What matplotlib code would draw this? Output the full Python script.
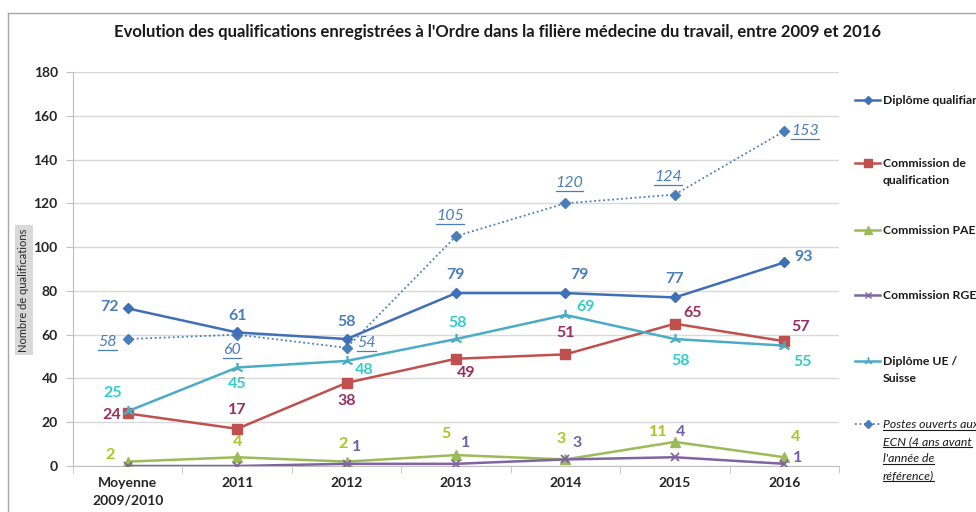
import matplotlib
matplotlib.use("Agg")
import matplotlib.pyplot as plt
from matplotlib.lines import Line2D

plt.rcParams['font.family'] = ['Lato', 'DejaVu Sans']

categories = ["Moyenne\n2009/2010", "2011", "2012", "2013", "2014", "2015", "2016"]
diplome_qualifiant = [72, 61, 58, 79, 79, 77, 93]
commission_qualif = [24, 17, 38, 49, 51, 65, 57]
commission_pae = [2, 4, 2, 5, 3, 11, 4]
commission_rge = [0, 0, 1, 1, 3, 4, 1]
diplome_ue = [25, 45, 48, 58, 69, 58, 55]
postes_ecn = [58, 60, 54, 105, 120, 124, 153]
rge_labels = [None, None, "1", "1", "3", "4", "1"]

W, H = 976, 512
fig = plt.figure(figsize=(W / 100, H / 100), dpi=100)
ax = fig.add_axes([73 / W, 1 - 466 / H, (839 - 73) / W, (466 - 72) / H])

x = list(range(len(categories)))

c_dq = '#3F6FB6'
c_cq = '#C0504D'
c_pae = '#9BBB59'
c_rge = '#8064A2'
c_ue = '#4BACC6'

ax.plot(x, postes_ecn, color='#4A7EBB', lw=1.3, ls=(0, (1, 1.5)), marker='D', ms=5, zorder=3)
ax.plot(x, diplome_qualifiant, color=c_dq, lw=1.8, marker='D', ms=5.5, zorder=4)
ax.plot(x, commission_qualif, color=c_cq, lw=1.8, marker='s', ms=6.5, zorder=4)
ax.plot(x, commission_pae, color=c_pae, lw=1.8, marker='^', ms=7, zorder=4)
ax.plot(x, commission_rge, color=c_rge, lw=1.8, marker='x', ms=6, mew=1.3, zorder=4)
ax.plot(x, diplome_ue, color=c_ue, lw=1.8, marker=(3, 2, 0), ms=8, mew=1.2, zorder=4)

ax.set_xlim(-0.5, 6.5)
ax.set_ylim(0, 180)
ax.set_yticks(range(0, 181, 20))
ax.set_xticks(x)
ax.set_xticklabels(categories, fontsize=10, fontweight='bold', color='#262626', linespacing=1.5)
ax.set_xticks([i + 0.5 for i in range(-1, 7)], minor=True)
ax.tick_params(axis='x', which='major', length=0, pad=8)
ax.tick_params(axis='x', which='minor', length=5, color='#BFBFBF', direction='out')
ax.tick_params(axis='y', length=5, color='#BFBFBF', labelsize=10, labelcolor='#262626', pad=6)
for lab in ax.get_yticklabels():
    lab.set_fontweight('bold')
ax.grid(axis='y', color='#D9D9D9', lw=1)
ax.set_axisbelow(True)
for s in ['top', 'right']:
    ax.spines[s].set_visible(False)
ax.spines['left'].set_color('#BFBFBF')
ax.spines['bottom'].set_color('#BFBFBF')

fs = 11.5

def label_series(vals, offs, color, texts=None, style='normal', weight='bold'):
    out = []
    for i, (v, o) in enumerate(zip(vals, offs)):
        t = str(v) if texts is None else texts[i]
        if t is None:
            continue
        a = ax.annotate(t, (i, v), xytext=o, textcoords='offset pixels', ha='center', va='center',
                        color=color, fontsize=fs, fontweight=weight, fontstyle=style, zorder=6)
        out.append(a)
    return out

label_series(diplome_qualifiant, [(-18, 1), (0, 16), (0, 17), (0, 18), (14, 18), (0, 18), (19, 5)], '#4A7EBB')
label_series(commission_qualif, [(-16, -2), (0, 19), (0, -18), (10, -14), (0, 21), (18, 11), (16, 14)], '#9B2D5F')
label_series(diplome_ue, [(-15, 18), (0, -17), (18, -9), (2, 16), (20, 8), (6, -22), (18, -16)], '#33CCCC')
label_series(commission_pae, [(-18, 7), (0, 15), (-4, 18), (-10, 21), (-4, 20), (-17, 10), (11, 20)], '#A5C81E')
label_series(commission_rge, [(0, 0), (0, 0), (10, 17), (10, 21), (12, 16), (6, 25), (13, 6)], '#7060A8', texts=rge_labels)
ecn_texts = label_series(postes_ecn, [(-20, -3), (-5, -15), (20, 5), (-6, 20), (4, 20), (-7, 18), (21, 0)],
                         '#4A7EBB', style='italic', weight='normal')

# Title
fig.text(498 / W, 1 - 32 / H, "Evolution des qualifications enregistrées à l'Ordre dans la filière médecine du travail, entre 2009 et 2016",
         ha='center', va='center', fontsize=12, fontweight='bold', color='#1A1A1A')

# Y label with grey box
fig.text(24 / W, 1 - 290 / H, "Nombre de qualifications", rotation=90, ha='center', va='center',
         fontsize=8, color='#262626', bbox=dict(boxstyle='square,pad=0.3', fc='#D9D9D9', ec='none'))

# Outer frame
fig.add_artist(Line2D([8 / W, 1], [1 - 13 / H, 1 - 13 / H], transform=fig.transFigure, color='#A6A6A6', lw=1))
fig.add_artist(Line2D([8 / W, 8 / W], [0, 1 - 13 / H], transform=fig.transFigure, color='#A6A6A6', lw=1))

# Legend (manual): each text line placed separately
lfs = 8.8
lstep = 17
legend_items = [
    (["Diplôme qualifiant"], 100, dict(color=c_dq, marker='D', ms=4.5, lw=1.8), dict(fontweight='bold'), False),
    (["Commission de", "qualification"], 163, dict(color=c_cq, marker='s', ms=5.5, lw=1.8), dict(fontweight='bold'), False),
    (["Commission PAE"], 230, dict(color=c_pae, marker='^', ms=6, lw=1.8), dict(fontweight='bold'), False),
    (["Commission RGE"], 295, dict(color=c_rge, marker='x', ms=5, lw=1.8), dict(fontweight='bold'), False),
    (["Diplôme UE /", "Suisse"], 361, dict(color=c_ue, marker=(3, 2, 0), ms=6, lw=1.8), dict(fontweight='bold'), False),
    (["Postes ouverts aux", "ECN (4 ans avant", "l'année de", "référence)"], 424,
     dict(color='#4A7EBB', marker='D', ms=4.5, lw=1.3, ls=(0, (1, 1.5))), dict(fontstyle='italic'), True),
]
legend_lines = []
for lines, ypix, lk, tk, ul in legend_items:
    yf = 1 - ypix / H
    fig.add_artist(Line2D([855 / W, 867.5 / W, 880 / W], [yf, yf, yf], transform=fig.transFigure,
                          markevery=[1], **lk))
    for k, line in enumerate(lines):
        yl = ypix + k * lstep
        t = fig.text(883 / W, 1 - (yl + 4) / H, line, ha='left', va='baseline', fontsize=lfs,
                     color='#1A1A1A', **tk)
        if ul:
            legend_lines.append((t, yl + 6))

fig.canvas.draw()
renderer = fig.canvas.get_renderer()

for t in ecn_texts:
    bb = t.get_window_extent(renderer)
    y = bb.y0 - 1
    fig.add_artist(Line2D([bb.x0 / W, bb.x1 / W], [y / H, y / H], transform=fig.transFigure, color='#4A7EBB', lw=0.9))

for t, ypx in legend_lines:
    bb = t.get_window_extent(renderer)
    yf = 1 - ypx / H
    fig.add_artist(Line2D([bb.x0 / W, bb.x1 / W], [yf, yf], transform=fig.transFigure, color='#1A1A1A', lw=0.8))

fig.savefig("out.png", dpi=100)
